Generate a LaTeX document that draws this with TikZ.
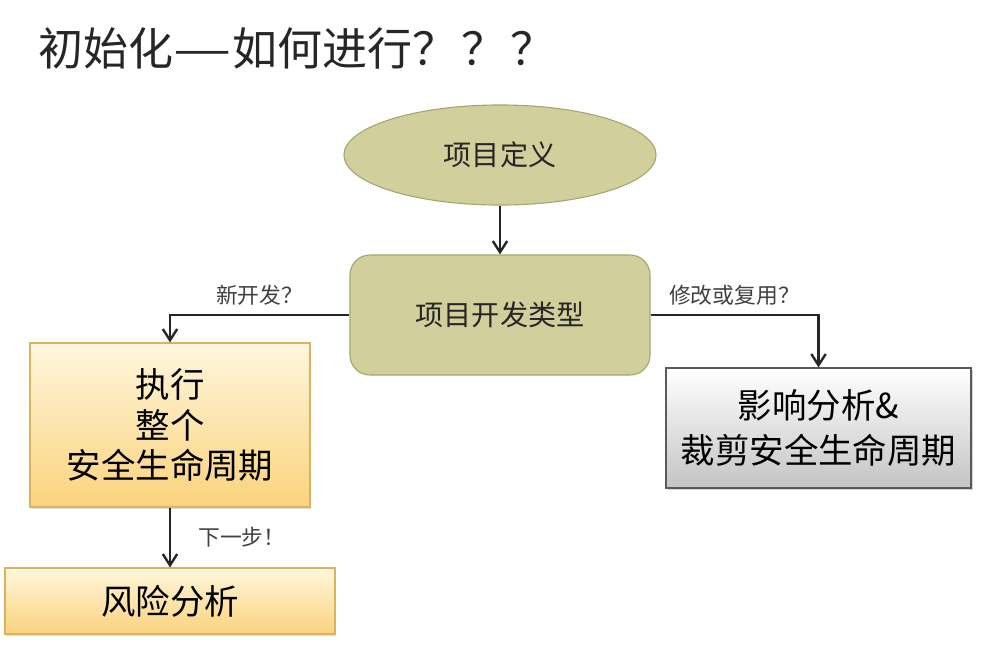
\documentclass[tikz,border=0pt]{standalone}
\usepackage{fontspec}
\setmainfont{Noto Sans CJK SC}
\usetikzlibrary{arrows.meta, shapes.geometric, shadows}

\definecolor{olivefill}{RGB}{209,207,156}
\definecolor{olivedraw}{RGB}{168,166,112}
\definecolor{paletop}{RGB}{255,246,220}
\definecolor{palebot}{RGB}{250,211,125}
\definecolor{paledraw}{RGB}{214,180,96}
\definecolor{greybot}{RGB}{196,196,196}
\definecolor{greydraw}{RGB}{90,90,90}
\definecolor{inkline}{RGB}{38,38,38}

\tikzset{
    arrow/.style={draw=inkline, line width=1.7pt, -{Straight Barb[length=2.8mm, width=3.6mm]}},
    lbl/.style={font=\fontsize{15.5}{18}\selectfont, text=black!75},
    deftype/.style={fill=olivefill, draw=olivedraw, line width=0.8pt,
        font=\fontsize{20}{24}\selectfont, text=black!85},
    palebox/.style={top color=paletop, bottom color=palebot, draw=paledraw,
        line width=0.8pt, align=center,
        drop shadow={opacity=0.25, shadow xshift=1pt, shadow yshift=-1.2pt}},
    greybox/.style={top color=white, bottom color=greybot, draw=greydraw,
        line width=0.8pt, align=center,
        drop shadow={opacity=0.35, shadow xshift=1.2pt, shadow yshift=-1.5pt}}
}

\begin{document}
\begin{tikzpicture}[x=0.025cm, y=-0.025cm]
    \useasboundingbox (0,0) rectangle (988,647);
    % title
    \node[anchor=west, font=\fontsize{32}{38}\selectfont, text=black!85] (title) at (34,48)
        {初始化\scalebox{1.45}[1]{—}如何进行？\kern3pt？\kern3pt？};
    % nodes
    \node[deftype, ellipse, minimum width=7.8cm, minimum height=2.5cm, inner sep=0pt] (define) at (500,155) {项目定义};
    \node[deftype, rounded corners=0.5cm, minimum width=7.5cm, minimum height=3cm] (type) at (500,315) {项目开发类型};
    \node[palebox, minimum width=7cm, minimum height=4.1cm,
        font=\fontsize{24.5}{29}\selectfont] (whole) at (170,425) {执行\\整个\\安全生命周期};
    \node[greybox, minimum width=7.625cm, minimum height=3cm,
        font=\fontsize{24.5}{32}\selectfont] (tailor) at (818.5,428) {影响分析\&\\裁剪安全生命周期};
    \node[palebox, minimum width=8.25cm, minimum height=1.65cm,
        font=\fontsize{24.5}{29}\selectfont] (risk) at (170,601) {风险分析};
    % connectors
    \draw[arrow] (define) -- (type);
    \draw[arrow] (type.west) -| (whole.north) node[lbl, pos=0.25, above=3pt] {新开发？};
    \draw[arrow] (type.east) -| (tailor.north) node[lbl, pos=0.25, above=3pt] {修改或复用？};
    \draw[arrow] (whole) -- (risk) node[lbl, midway, right=16pt] {下一步！};
\end{tikzpicture}
\end{document}
